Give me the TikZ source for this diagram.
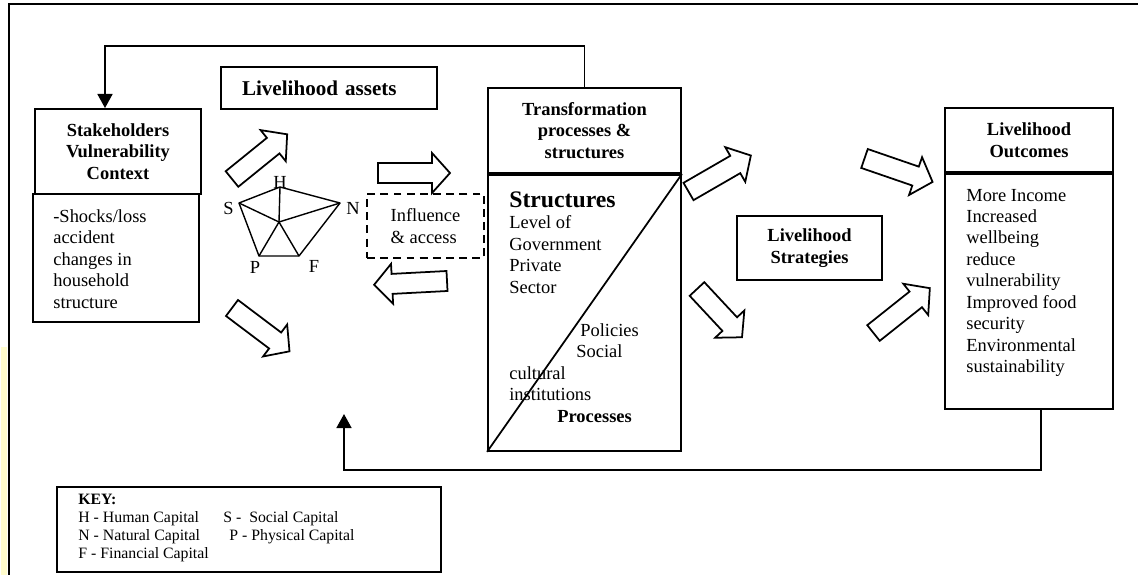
\documentclass[tikz,border=0pt]{standalone}
\usepackage{fontspec}
\setmainfont{Liberation Serif}
\usetikzlibrary{arrows.meta}

\tikzset{
  box/.style={draw, line width=1.1pt, inner sep=0pt, align=center},
  ttl/.style={font=\fontsize{10.5}{12.2}\selectfont\bfseries},
  txt/.style={inner sep=0pt, align=left, font=\fontsize{10.5}{12.2}\selectfont},
  keytxt/.style={inner sep=0pt, align=left, font=\fontsize{9}{10.3}\selectfont},
  fb/.style={line width=1.1pt, -{Triangle[length=8pt,width=8.5pt]}},
  pics/blockarrow/.style={code={
    \draw[line width=1pt, fill=white, line join=miter]
      (0,-10) -- (#1-18,-10) -- (#1-18,-20) -- (#1,0) -- (#1-18,20) -- (#1-18,10) -- (0,10) -- cycle;
  }},
}

\begin{document}
\begin{tikzpicture}[x=0.02cm, y=-0.02cm]
    \useasboundingbox (0,0) rectangle (1147,575);
    % page frame
    \fill[yellow!20] (1,347) rectangle (7,575);
    \draw[line width=1.1pt] (9,575) -- (9,4) -- (1138,4);

    % vulnerability context
    \node[box, ttl, minimum width=3.32cm, minimum height=1.70cm] (stake) at (118,151.5) {Stakeholders\\Vulnerability\\Context};
    \node[box, minimum width=3.32cm, minimum height=2.56cm] (shock) at (116,258) {};
    % base = last line
    \node[txt, anchor=base west] (shocktxt) at (53,308) {-Shocks/loss\\accident\\changes in\\household\\structure};

    % livelihood assets
    \node[box, font=\fontsize{12}{14}\selectfont\bfseries, align=left, text width=3.48cm, minimum width=4.32cm, minimum height=0.84cm] (assets) at (329,88) {Livelihood assets};
    \coordinate (pH) at (280,187);
    \coordinate (pN) at (340,203);
    \coordinate (pF) at (299,256);
    \coordinate (pP) at (259,256);
    \coordinate (pS) at (239,203);
    \coordinate (pC) at (279,222);
    \draw[line width=0.8pt, line join=round] (pH) -- (pN) -- (pF) -- (pP) -- (pS) -- cycle;
    \foreach \v in {pH,pN,pF,pP,pS}
        \draw[line width=0.8pt] (pC) -- (\v);
    \node[txt, anchor=base] (lH) at (280,188) {H};
    \node[txt, anchor=base east] (lS) at (234,214) {S};
    \node[txt, anchor=base west] (lN) at (346,214) {N};
    \node[txt, anchor=base] (lP) at (255,273) {P};
    \node[txt, anchor=base] (lF) at (314,272) {F};

    \node[box, txt, dashed, dash pattern=on 4.5pt off 3pt, minimum width=2.34cm, minimum height=1.28cm] (infl) at (425.5,226) {Influence\\\& access};

    % transformation structures and processes
    \node[box, ttl, minimum width=3.86cm, minimum height=1.70cm] (trtop) at (584.5,130.5) {Transformation\\processes \&\\structures};
    \node[box, minimum width=3.86cm, minimum height=5.52cm, anchor=north] (trbody) at (trtop.south) {};
    \draw[line width=1pt] (trbody.south west) -- (trbody.north east);
    \node[txt, anchor=base west, font=\fontsize{13.5}{16}\selectfont\bfseries] (structs) at (509,207) {Structures};
    \node[txt, anchor=base west] (structtxt) at (509,293) {Level of\\Government\\Private\\Sector};
    \node[txt, anchor=base west] (pol) at (580,336) {Policies};
    \node[txt, anchor=base west] (soc) at (576,357.5) {Social};
    \node[txt, anchor=base west] (cult) at (509,400.5) {cultural\\institutions};
    \node[txt, anchor=base west, font=\fontsize{10.5}{12.2}\selectfont\bfseries] (proc) at (557,422) {Processes};

    % strategies and outcomes
    \node[box, ttl, minimum width=2.9cm, minimum height=1.28cm] (strat) at (809.5,248) {Livelihood\\Strategies};
    \node[box, ttl, minimum width=3.36cm, minimum height=1.28cm] (outtop) at (1029,140) {Livelihood\\Outcomes};
    \node[box, minimum width=3.36cm, minimum height=4.70cm, anchor=north] (outbody) at (outtop.south) {};
    \node[txt, anchor=base west] (outtxt) at (966,372.5) {More Income\\Increased\\wellbeing\\reduce\\vulnerability\\Improved food\\security\\Environmental\\sustainability};

    % block arrows
    \pic[rotate=39] at (232,179) {blockarrow=71};
    \pic at (378,173) {blockarrow=72};
    \pic[rotate=183] at (447,281) {blockarrow=73};
    \pic[rotate=-37] at (232,308) {blockarrow=72};
    \pic[rotate=30] at (688.5,191.5) {blockarrow=72};
    \pic[rotate=-47] at (697,289) {blockarrow=66};
    \pic[rotate=-19] at (864.5,158.5) {blockarrow=72};
    \pic[rotate=38.5] at (873.5,333) {blockarrow=72};

    % feedback lines
    \coordinate (fbtop) at (105,46);
    \draw[fb] (trtop.north) |- (fbtop) -- (fbtop |- stake.north);
    \coordinate (fbbot) at (1041,470);
    \coordinate (fbtip) at (344,414);
    \draw[fb] (outbody.south -| fbbot) -- (fbbot) -| (fbtip);

    % key
    \node[box, minimum width=7.68cm, minimum height=1.70cm] (key) at (249,529.5) {};
    \node[keytxt, anchor=base west] (keycol1) at (78,558.5) {\textbf{KEY:}\\H - Human Capital\\N - Natural Capital\\F - Financial Capital};
    \node[keytxt, anchor=base west] (keyS) at (223,522) {S -\ \ Social Capital};
    \node[keytxt, anchor=base west] (keyP) at (229,540) {P - Physical Capital};
\end{tikzpicture}
\end{document}
